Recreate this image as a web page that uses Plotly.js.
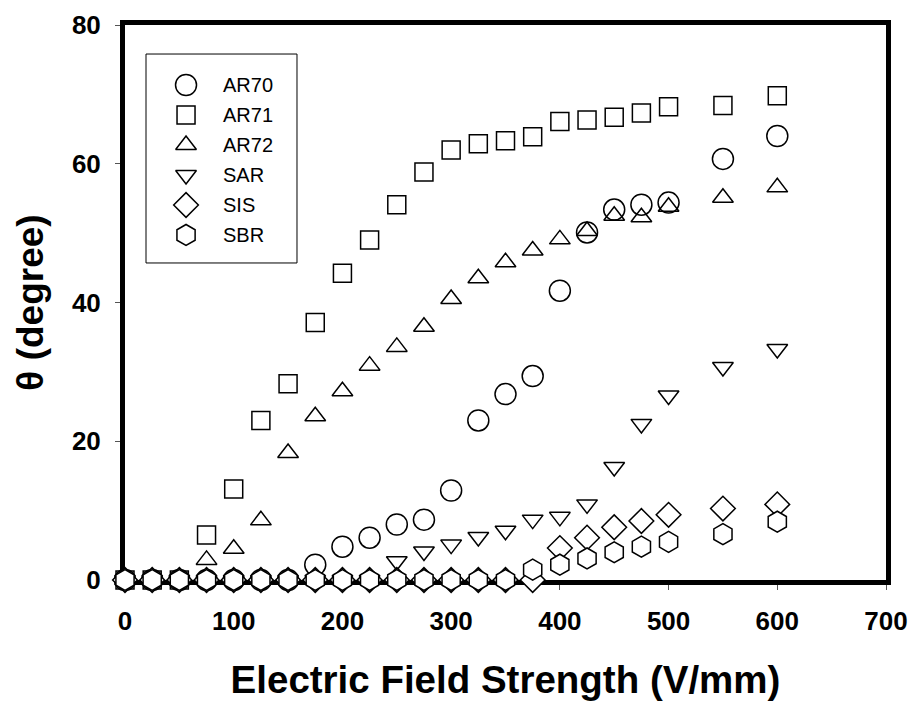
<!DOCTYPE html>
<html>
<head>
<meta charset="utf-8">
<script src="https://cdn.plot.ly/plotly-3.0.1.min.js"></script>
<style>html,body{margin:0;padding:0;background:#fff}#chart{width:916px;height:701px}</style>
</head>
<body>
<div id="chart"></div>
<script>
const fieldStrength = [0,25,50,75,100,125,150,175,200,225,250,275,300,325,350,375,400,425,450,475,500,550,600];
const AR70 = [0,0,0,0,0,0,0,2.2,4.8,6.1,8.0,8.7,12.9,23.0,26.8,29.4,41.7,50.1,53.4,54.1,54.4,60.7,64.0];
const AR71 = [0,0,0,6.5,13.1,23.0,28.3,37.1,44.2,49.0,54.1,58.8,62.0,62.9,63.3,63.9,66.1,66.3,66.7,67.3,68.2,68.4,69.8];
const AR72 = [0,0,0,2.9,4.5,8.6,18.3,23.6,27.2,30.9,33.6,36.5,40.5,43.5,45.8,47.5,49.1,50.3,52.5,52.3,53.8,55.1,56.6];
const SAR  = [0,0,0,0,0,0,0,0,0,0,2.7,4.1,5.1,6.2,7.1,8.7,9.1,10.9,16.3,22.5,26.6,30.7,33.3];
const SIS  = [0,0,0,0,0,0,0,0,0,0,0,0,0,0,0,0,4.6,6.1,7.6,8.5,9.4,10.3,10.9];
const SBR  = [0,0,0,0,0,0,0,0,0,0,0,0,0,0,0,1.5,2.2,3.1,4.0,4.8,5.5,6.6,8.4];
const seriesNames = ["AR70","AR71","AR72","SAR","SIS","SBR"];
const xTicks = [0,100,200,300,400,500,600,700];
const yTicks = [0,20,40,60,80];

const FONT = "Liberation Sans, Arial, sans-serif";
const styles = [
  {symbol:"circle-open", size:21, fill:null},
  {symbol:"square-open", size:18, fill:null},
  {symbol:"triangle-up-open", size:18, fill:null},
  {symbol:"triangle-down-open", size:18, fill:null},
  {symbol:"diamond", size:19, fill:"white"},
  {symbol:"hexagon", size:21, fill:"white"}
];
const values = [AR70, AR71, AR72, SAR, SIS, SBR];
const traces = values.map((v,i)=>{
  const st = styles[i];
  const marker = {symbol: st.symbol, size: st.size, color: st.fill || "black",
                  line:{color:"black", width:1.5}};
  return {x: fieldStrength, y: v, name: seriesNames[i], type:"scatter", mode:"markers",
          cliponaxis:false, marker, showlegend:false};
});

// Custom legend box (paper-fraction overlay axes)
const legX = 0.0802, legTop = 0.8919, legStep = 0.05405, legTextX = 0.126;
const annotations = [];
styles.forEach((st,i)=>{
  const yy = legTop - i*legStep;
  traces.push({x:[legX], y:[yy], xaxis:"x2", yaxis:"y2", type:"scatter", mode:"markers",
    showlegend:false, hoverinfo:"skip", cliponaxis:false,
    marker:{symbol: st.symbol, size: st.size, color: st.fill || "black", line:{color:"black", width:1.5}}});
  annotations.push({xref:"x domain", yref:"y domain", x:legTextX, y:yy, xanchor:"left", yanchor:"middle",
    text: seriesNames[i], showarrow:false, font:{family:FONT, size:20, color:"black"}});
});

const layout = {
  width:916, height:701,
  margin:{l:125, r:30, t:25, b:121},
  paper_bgcolor:"white", plot_bgcolor:"white",
  font:{family:FONT, color:"black"},
  showlegend:false,
  annotations,
  shapes:[{type:"rect", xref:"x domain", yref:"y domain", x0:0.0276, x1:0.226, y0:0.5712, y1:0.9477,
           line:{color:"black", width:1}, fillcolor:"rgba(0,0,0,0)", layer:"below"}],
  xaxis:{range:[0,700], tickvals:xTicks, ticktext:xTicks.map(String),
         showline:true, mirror:true, linewidth:5, linecolor:"black",
         ticks:"outside", ticklen:5, tickwidth:1, tickcolor:"#555",
         showgrid:false, zeroline:false, layer:"below traces",
         tickfont:{family:FONT, size:26, color:"black", weight:"bold"},
         ticklabelstandoff:9,
         title:{text:"Electric Field Strength (V/mm)", standoff:34,
                font:{family:FONT, size:38.5, color:"black", weight:"bold"}}},
  yaxis:{range:[0,80], tickvals:yTicks, ticktext:yTicks.map(String),
         showline:true, mirror:true, linewidth:5, linecolor:"black",
         ticks:"outside", ticklen:5, tickwidth:1, tickcolor:"#555",
         showgrid:false, zeroline:false, layer:"below traces",
         tickfont:{family:FONT, size:26, color:"black", weight:"bold"},
         ticklabelstandoff:9,
         title:{text:"θ (degree)", standoff:18,
                font:{family:FONT, size:37, color:"black", weight:"bold"}}},
  xaxis2:{overlaying:"x", range:[0,1], visible:false, fixedrange:true},
  yaxis2:{overlaying:"y", range:[0,1], visible:false, fixedrange:true}
};
Plotly.newPlot("chart", traces, layout, {displayModeBar:false, staticPlot:true});
</script>
</body>
</html>
